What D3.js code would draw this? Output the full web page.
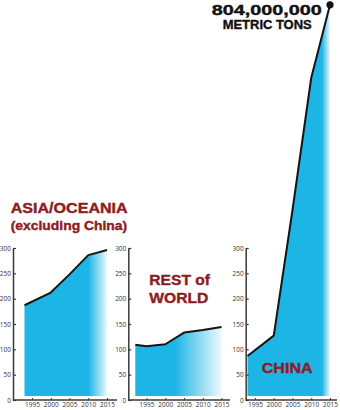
<!DOCTYPE html>
<html><head><meta charset="utf-8">
<script src="https://cdn.jsdelivr.net/npm/d3@7"></script>
<style>html,body{margin:0;padding:0;background:#fff;}svg{display:block;}</style>
</head><body>
<svg id="c" width="340" height="410"></svg>
<script>
// ---- data ----
const yTicks = [0, 50, 100, 150, 200, 250, 300];
const yearTicks = [1995, 2000, 2005, 2010, 2015];

const asiaYears  = [1993, 2000, 2005, 2010, 2015];
const asiaValues = [187, 212, 248, 286, 296];

const rowYears  = [1992, 1995, 2000, 2005, 2010, 2015];
const rowValues = [109, 106, 110, 133, 138, 144];

const chinaYears  = [1993, 2000, 2005, 2010, 2015];
const chinaValues = [87, 127, 375, 636, 780];

const chinaLabel = ["804,000,000", "METRIC TONS"];

// ---- layout ----
const svg = d3.select("#c");
const BLUE = "#1db4e6", RED = "#8c1c22", AXIS = "#3a3a3a";
const y = d3.scaleLinear().domain([0, 300]).range([400, 248]);
const FONT = "'Open Sans', 'DejaVu Sans', sans-serif";
const TFONT = "'Liberation Sans', Arial, sans-serif";

const panels = [
  {id:"asia", years: asiaYears, values: asiaValues, axisX: 13, x0: 13.25, axisEnd: 117, fadeFrom: 2010, fadeTo: 2015.5},
  {id:"row", years: rowYears, values: rowValues, axisX: 128.3, x0: 127.8, axisEnd: 230, fadeFrom: 2002.5, fadeTo: 2016},
  {id:"china", years: chinaYears, values: chinaValues, axisX: 245.7, x0: 236.25, axisEnd: 337, fadeFrom: 2012.8, fadeTo: 2015.2}
];

const defs = svg.append("defs");

panels.forEach(p => {
  const x = d3.scaleLinear().domain([1990, 2015]).range([p.x0, p.x0 + 93.75]);
  const data = p.years.map((yr, i) => ({yr, v: p.values[i]}));

  const g = defs.append("linearGradient").attr("id", "grad-" + p.id)
    .attr("gradientUnits", "userSpaceOnUse")
    .attr("x1", x(p.fadeFrom)).attr("x2", x(p.fadeTo)).attr("y1", 0).attr("y2", 0);
  g.append("stop").attr("offset", 0).attr("stop-color", BLUE);
  g.append("stop").attr("offset", 1).attr("stop-color", "#ffffff");

  const area = d3.area().x(d => x(d.yr)).y0(y(0) - 4).y1(d => y(d.v));
  const line = d3.line().x(d => x(d.yr)).y(d => y(d.v));

  svg.append("path").datum(data).attr("d", area).attr("fill", "url(#grad-" + p.id + ")");
  svg.append("path").datum(data).attr("d", line).attr("fill", "none")
    .attr("stroke", "#151515").attr("stroke-width", 2).attr("stroke-linejoin", "round");

  // y axis
  const ya = svg.append("g").attr("transform", `translate(${p.axisX},0)`)
    .call(d3.axisLeft(y).tickValues(yTicks).tickSizeInner(-3).tickSizeOuter(0).tickPadding(2));
  ya.select(".domain").attr("stroke", AXIS).attr("stroke-width", 1.5);
  ya.selectAll(".tick line").attr("stroke", AXIS).attr("stroke-width", 1.2);
  ya.selectAll("text").attr("font-family", FONT).attr("font-size", 6.5).attr("fill", "#333");

  // x axis
  const xa = svg.append("g").attr("transform", `translate(0,${y(0)})`)
    .call(d3.axisBottom(x).tickValues(yearTicks).tickFormat(d3.format("d")).tickSizeInner(-2).tickSizeOuter(0).tickPadding(2));
  xa.select(".domain").remove();
  xa.append("line").attr("x1", p.axisX).attr("x2", p.axisEnd).attr("y1", 0).attr("y2", 0)
    .attr("stroke", AXIS).attr("stroke-width", 1.5);
  xa.selectAll(".tick line").attr("stroke", AXIS).attr("stroke-width", 1);
  xa.selectAll("text").attr("font-family", FONT).attr("font-size", 6.5).attr("fill", "#333");

  if (p.id === "china") {
    const last = data[data.length - 1];
    svg.append("circle").attr("cx", x(last.yr)).attr("cy", y(last.v)).attr("r", 3.6).attr("fill", "#111");
  }
});

// ---- titles ----
function label(txt, xp, yp, size, width, color) {
  svg.append("text").attr("x", xp).attr("y", yp)
    .attr("font-family", TFONT).attr("font-weight", 700).attr("font-size", size)
    .attr("fill", color).attr("textLength", width).attr("lengthAdjust", "spacingAndGlyphs")
    .attr("stroke", color).attr("stroke-width", 0.4)
    .text(txt);
}
label("ASIA/OCEANIA", 10.7, 212.7, 15, 117, RED);
label("(excluding China)", 10.7, 229.5, 13, 116.5, RED);
label("REST of", 149.3, 285, 15.5, 60.7, RED);
label("WORLD", 149.3, 302.7, 15.5, 59, RED);
label("CHINA", 261.7, 372.7, 15.2, 51, RED);
label(chinaLabel[0], 211.7, 14.8, 14.6, 110, "#111");
label(chinaLabel[1], 222.7, 29.3, 13.6, 89, "#111");
</script>
</body></html>
